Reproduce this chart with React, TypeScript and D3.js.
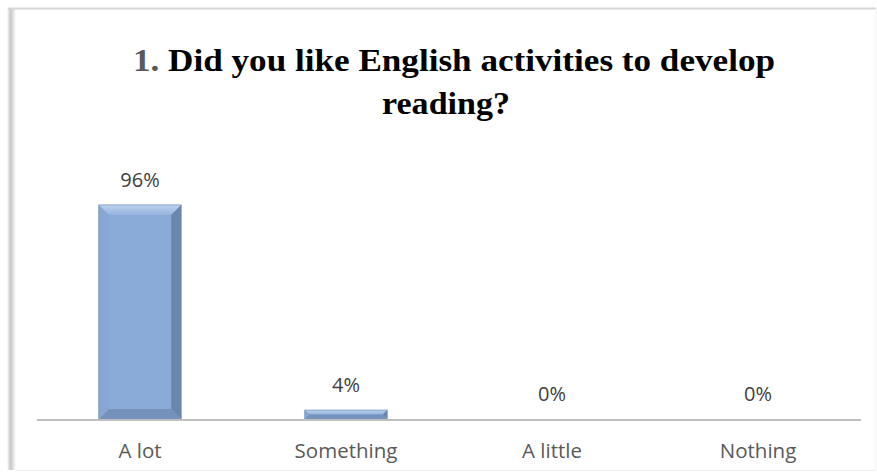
import React from "react";
import * as d3 from "d3";

const categories = ["A lot", "Something", "A little", "Nothing"];
const values = [0.96, 0.04, 0, 0];
const labels = ["96%", "4%", "0%", "0%"];
const titleNumber = "1.";
const titleLine1 = " Did you like English activities to develop";
const titleLine2 = "reading?";

export default function App() {
  const W = 877, H = 472;
  const x0 = 37, x1 = 861, baseY = 419, topY = 196;
  const x = d3.scaleBand<string>().domain(categories).range([x0, x1]).paddingInner(0.6).paddingOuter(0.3);
  const y = d3.scaleLinear().domain([0, 1]).range([baseY, topY]);
  const bw = x.bandwidth();
  const labelFont = "'Open Sans', Lato, sans-serif";
  const serif = "'Liberation Serif', 'Times New Roman', serif";
  return (
    <svg width={W} height={H} style={{ position: "absolute", left: 0, top: 0 }}>
      <defs>
        <linearGradient id="lshadow" x1="0" x2="1" y1="0" y2="0">
          <stop offset="0" stopColor="#ffffff" />
          <stop offset="0.35" stopColor="#c8c8c8" />
          <stop offset="0.6" stopColor="#d8d8d8" />
          <stop offset="1" stopColor="#ffffff" />
        </linearGradient>
        <linearGradient id="topbevel" x1="0" x2="0" y1="0" y2="1">
          <stop offset="0" stopColor="#bcd2f0" />
          <stop offset="1" stopColor="#96b3de" />
        </linearGradient>
      </defs>
      <rect x={0} y={0} width={W} height={H} fill="#ffffff" />
      <rect x={7} y={8} width={9} height={462} fill="url(#lshadow)" />
      <line x1={8} x2={876} y1={8.5} y2={8.5} stroke="#d6d6d6" strokeWidth={2} />
      <line x1={876} x2={876} y1={8} y2={470} stroke="#f2f2f2" strokeWidth={1} />
      <line x1={16} x2={876} y1={470.5} y2={470.5} stroke="#eeeeee" strokeWidth={1} />
      <text x={454} y={71} textAnchor="middle" fontFamily={serif} fontWeight="bold" fontSize={32}
        textLength={642} lengthAdjust="spacingAndGlyphs">
        <tspan fill="#595959">{titleNumber}</tspan>
        <tspan fill="#000000">{titleLine1}</tspan>
      </text>
      <text x={446} y={114} textAnchor="middle" fontFamily={serif} fontWeight="bold" fontSize={32} fill="#000"
        textLength={128} lengthAdjust="spacingAndGlyphs">
        {titleLine2}
      </text>
      {categories.map((c, i) => {
        const bx = x(c)!;
        const by = y(values[i]);
        const h = baseY - by;
        const b = Math.min(10, h / 2, bw / 2);
        return (
          <g key={c}>
            {h > 0 && (
              <g>
                <rect x={bx} y={by} width={bw} height={h} fill="#8aaad8" />
                <polygon points={`${bx},${by} ${bx + bw},${by} ${bx + bw - b},${by + b} ${bx + b},${by + b}`} fill="url(#topbevel)" />
                <polygon points={`${bx + bw},${by} ${bx + bw},${baseY} ${bx + bw - b},${baseY - b} ${bx + bw - b},${by + b}`} fill="#6a86ad" />
                <polygon points={`${bx},${baseY} ${bx + bw},${baseY} ${bx + bw - b},${baseY - b} ${bx + b},${baseY - b}`} fill="#7592bd" />
                <polygon points={`${bx},${by} ${bx + b},${by + b} ${bx + b},${baseY - b} ${bx},${baseY}`} fill="#86a6d4" />
                <rect x={bx} y={by} width={bw} height={h} fill="none" stroke="#7b96bd" strokeWidth={0.8} />
              </g>
            )}
            <text x={bx + bw / 2} y={by - 18} textAnchor="middle" fontFamily={labelFont} fontSize={20} fill="#404040">
              {labels[i]}
            </text>
            <text x={bx + bw / 2} y={458} textAnchor="middle" fontFamily={labelFont} fontSize={20.5} fill="#595959">
              {c}
            </text>
          </g>
        );
      })}
      <line x1={x0} x2={x1} y1={baseY + 1} y2={baseY + 1} stroke="#bfbfbf" strokeWidth={2} />
    </svg>
  );
}
